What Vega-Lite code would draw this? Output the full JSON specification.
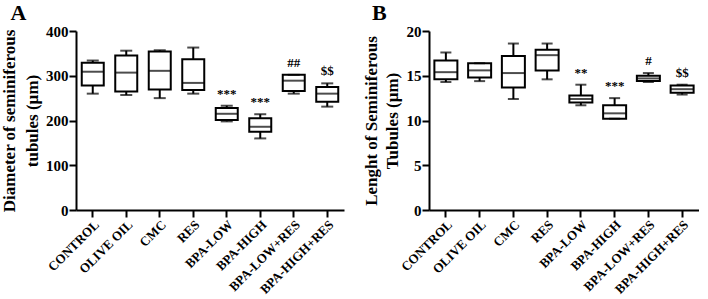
{
  "$schema": "https://vega.github.io/schema/vega-lite/v6.json",
  "padding": {"left": 0, "top": 2, "right": 0, "bottom": 0},
  "spacing": 18,
  "datasets": {
    "diam": [
      {"group": "CONTROL", "min": 260, "q1": 278, "median": 309, "q3": 329, "max": 334, "sig": ""},
      {"group": "OLIVE OIL", "min": 257, "q1": 265, "median": 307, "q3": 345, "max": 356, "sig": ""},
      {"group": "CMC", "min": 250, "q1": 269, "median": 311, "q3": 354, "max": 357, "sig": ""},
      {"group": "RES", "min": 260, "q1": 268, "median": 284, "q3": 337, "max": 363, "sig": ""},
      {"group": "BPA-LOW", "min": 198, "q1": 201, "median": 215, "q3": 228, "max": 233, "sig": "***"},
      {"group": "BPA-HIGH", "min": 160, "q1": 175, "median": 186, "q3": 205, "max": 214, "sig": "***"},
      {"group": "BPA-LOW+RES", "min": 260, "q1": 266, "median": 289, "q3": 302, "max": 302, "sig": "##"},
      {"group": "BPA-HIGH+RES", "min": 231, "q1": 242, "median": 260, "q3": 275, "max": 283, "sig": "$$"}
    ],
    "len": [
      {"group": "CONTROL", "min": 14.3, "q1": 14.6, "median": 15.4, "q3": 16.7, "max": 17.6, "sig": ""},
      {"group": "OLIVE OIL", "min": 14.4, "q1": 14.8, "median": 15.6, "q3": 16.4, "max": 16.4, "sig": ""},
      {"group": "CMC", "min": 12.4, "q1": 13.7, "median": 15.3, "q3": 17.2, "max": 18.6, "sig": ""},
      {"group": "RES", "min": 14.6, "q1": 15.6, "median": 17.3, "q3": 17.9, "max": 18.6, "sig": ""},
      {"group": "BPA-LOW", "min": 11.7, "q1": 12.0, "median": 12.4, "q3": 12.8, "max": 14.0, "sig": "**"},
      {"group": "BPA-HIGH", "min": 10.2, "q1": 10.2, "median": 10.8, "q3": 11.7, "max": 12.5, "sig": "***"},
      {"group": "BPA-LOW+RES", "min": 14.3, "q1": 14.4, "median": 14.7, "q3": 15.0, "max": 15.3, "sig": "#"},
      {"group": "BPA-HIGH+RES", "min": 12.9, "q1": 13.1, "median": 13.5, "q3": 13.9, "max": 14.0, "sig": "$$"}
    ]
  },
  "config": {
    "view": {"stroke": null},
    "font": "Liberation Serif",
    "axis": {
      "grid": false,
      "domainColor": "black",
      "domainWidth": 2,
      "tickColor": "black",
      "tickWidth": 2,
      "tickSize": 7,
      "labelFont": "Liberation Serif",
      "labelFontWeight": "bold",
      "labelColor": "black",
      "labelPadding": 1,
      "titleFont": "Liberation Serif",
      "titleFontWeight": "bold",
      "titleFontSize": 17,
      "titleColor": "black"
    },
    "title": {
      "font": "Liberation Serif",
      "fontWeight": "bold",
      "fontSize": 22,
      "color": "black",
      "anchor": "start",
      "frame": "bounds"
    }
  },
  "hconcat": [
    {
      "width": 268,
      "height": 179,
      "title": {"text": "A", "dx": 10, "offset": -1},
      "data": {"name": "diam"},
      "encoding": {
        "x": {
          "field": "group", "type": "nominal", "sort": null,
          "scale": {"padding": 0},
          "axis": {"title": null, "labelAngle": -45, "labelFontSize": 13}
        }
      },
      "layer": [
        {
          "mark": {"type": "rule", "stroke": "black", "strokeWidth": 2},
          "encoding": {
            "y": {
              "field": "min", "type": "quantitative",
              "scale": {"domain": [0, 400]},
              "axis": {
                "title": ["Diameter of seminiferous", "tubules (µm)"],
                "titleLineHeight": 23,
                "titlePadding": 4,
                "values": [0, 100, 200, 300, 400],
                "labelFontSize": 15
              }
            },
            "y2": {"field": "max"}
          }
        },
        {
          "mark": {"type": "bar", "fill": "white", "stroke": "black", "strokeWidth": 2, "size": 22},
          "encoding": {
            "y": {"field": "q1", "type": "quantitative"},
            "y2": {"field": "q3"}
          }
        },
        {
          "mark": {"type": "tick", "color": "black", "thickness": 2, "size": 22},
          "encoding": {"y": {"field": "median", "type": "quantitative"}}
        },
        {
          "mark": {"type": "tick", "color": "black", "thickness": 2, "size": 12},
          "encoding": {"y": {"field": "min", "type": "quantitative"}}
        },
        {
          "mark": {"type": "tick", "color": "black", "thickness": 2, "size": 12},
          "encoding": {"y": {"field": "max", "type": "quantitative"}}
        },
        {
          "mark": {"type": "text", "font": "Liberation Serif", "fontWeight": "bold", "fontSize": 13, "baseline": "bottom", "dy": -5, "fill": "black"},
          "encoding": {
            "y": {"field": "max", "type": "quantitative"},
            "text": {"field": "sig"}
          }
        }
      ]
    },
    {
      "width": 270,
      "height": 179,
      "title": {"text": "B", "dx": 10, "offset": -1},
      "data": {"name": "len"},
      "encoding": {
        "x": {
          "field": "group", "type": "nominal", "sort": null,
          "scale": {"padding": 0},
          "axis": {"title": null, "labelAngle": -45, "labelFontSize": 13}
        }
      },
      "layer": [
        {
          "mark": {"type": "rule", "stroke": "black", "strokeWidth": 2},
          "encoding": {
            "y": {
              "field": "min", "type": "quantitative",
              "scale": {"domain": [0, 20]},
              "axis": {
                "title": ["Lenght of Seminiferous", "Tubules (µm)"],
                "titleLineHeight": 21,
                "titlePadding": 5,
                "values": [0, 5, 10, 15, 20],
                "labelFontSize": 15
              }
            },
            "y2": {"field": "max"}
          }
        },
        {
          "mark": {"type": "bar", "fill": "white", "stroke": "black", "strokeWidth": 2, "size": 23},
          "encoding": {
            "y": {"field": "q1", "type": "quantitative"},
            "y2": {"field": "q3"}
          }
        },
        {
          "mark": {"type": "tick", "color": "black", "thickness": 2, "size": 23},
          "encoding": {"y": {"field": "median", "type": "quantitative"}}
        },
        {
          "mark": {"type": "tick", "color": "black", "thickness": 2, "size": 11},
          "encoding": {"y": {"field": "min", "type": "quantitative"}}
        },
        {
          "mark": {"type": "tick", "color": "black", "thickness": 2, "size": 11},
          "encoding": {"y": {"field": "max", "type": "quantitative"}}
        },
        {
          "mark": {"type": "text", "font": "Liberation Serif", "fontWeight": "bold", "fontSize": 13, "baseline": "bottom", "dy": -5, "fill": "black"},
          "encoding": {
            "y": {"field": "max", "type": "quantitative"},
            "text": {"field": "sig"}
          }
        }
      ]
    }
  ]
}
